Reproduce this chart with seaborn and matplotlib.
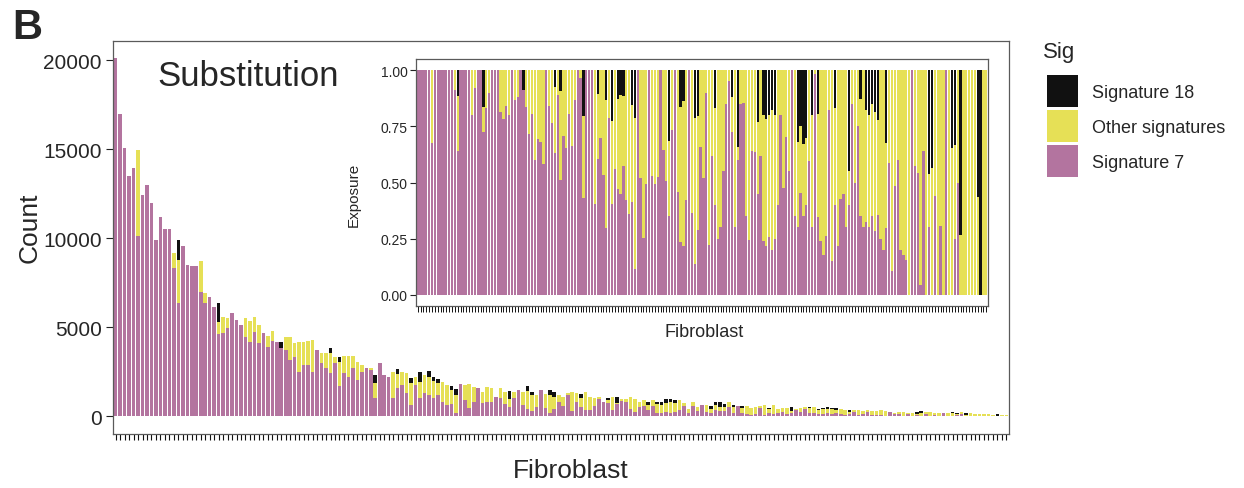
import pandas as pd
import seaborn as sns
import matplotlib.pyplot as plt
from matplotlib.patches import Patch

# counts per fibroblast (sorted by total substitutions)
total = [20100, 16950, 15050, 13500, 13950, 14950, 12450, 13000, 12000, 9900,
         11200, 10500, 10500, 9150, 9900, 9550, 8500, 8450, 8450, 8700,
         6900, 6700, 6150, 6350, 5580, 5490, 5770, 5400, 5120, 5490,
         5350, 5580, 5120, 4690, 4500, 4780, 4180, 4180, 4420, 4420,
         4090, 4150, 4180, 4230, 4280, 3720, 3530, 3530, 3810, 3340,
         3340, 3400, 3400, 3400, 3060, 2880, 2690, 2690, 2320, 2970,
         2320, 2220, 2500, 2650, 2500, 2410, 2130, 2220, 2500, 2320,
         2540, 2220, 2090, 1940, 1750, 1700, 1510, 1790, 1750, 1790,
         1660, 1570, 1380, 1660, 1570, 1100, 1570, 1380, 1420, 1380,
         1470, 1380, 1700, 1380, 1190, 1470, 1230, 1470, 1380, 1190,
         1100, 1290, 1340, 1290, 1250, 1380, 1100, 1010, 1100, 820,
         1010, 1100, 1100, 970, 950, 1100, 970, 820, 910, 780,
         880, 820, 780, 950, 950, 900, 880, 730, 400, 820,
         500, 600, 630, 550, 820, 780, 700, 820, 650, 580,
         560, 560, 450, 500, 560, 600, 450, 600, 400, 480,
         450, 500, 400, 450, 500, 540, 500, 400, 480, 500,
         460, 450, 420, 350, 370, 350, 330, 300, 350, 300,
         280, 320, 300, 250, 200, 240, 220, 180, 200, 250,
         300, 250, 230, 180, 170, 200, 160, 230, 180, 210,
         150, 170, 120, 110, 100, 100, 80, 130, 80, 60]

sig7 = [20100, 16950, 15050, 13500, 13950, 10100, 12450, 13000, 12000, 9900,
        11200, 10500, 10500, 8350, 6350, 9550, 8500, 8450, 8450, 6950,
        6350, 6700, 6150, 4600, 4650, 4930, 5770, 5400, 5120, 4460,
        4180, 4700, 4090, 4690, 3900, 4200, 4180, 3810, 3700, 3160,
        3300, 2500, 2900, 2880, 2500, 3720, 2970, 2700, 2410, 2970,
        1700, 2410, 2220, 2730, 2030, 2500, 2690, 2600, 1000, 2970,
        2320, 2220, 1010, 1600, 1750, 1290, 630, 1750, 1010, 1300,
        1200, 1000, 1200, 820, 630, 700, 170, 1790, 910, 450,
        820, 1570, 730, 820, 820, 1100, 1010, 700, 500, 1010,
        1470, 630, 400, 300, 500, 1470, 450, 200, 400, 785,
        570, 1160, 295, 800, 500, 345, 330, 555, 935, 780,
        730, 330, 660, 825, 810, 385, 235, 525, 580, 350,
        545, 195, 170, 245, 190, 225, 350, 585, 190, 575,
        275, 600, 220, 165, 370, 275, 280, 490, 195, 570,
        195, 135, 80, 130, 460, 90, 180, 130, 170, 215,
        135, 200, 340, 225, 375, 190, 150, 130, 145, 175,
        130, 160, 105, 70, 110, 205, 35, 145, 210, 60,
        50, 50, 0, 250, 115, 130, 10, 115, 0, 75,
        0, 110, 0, 55, 0, 200, 0, 0, 45, 105,
        0, 0, 0, 0, 0, 0, 0, 0, 0, 0]

sig18 = [0, 0, 0, 0, 0, 0, 0, 0, 0, 0,
         0, 0, 0, 0, 1150, 0, 0, 0, 0, 0,
         0, 0, 0, 1050, 0, 0, 0, 0, 0, 0,
         0, 0, 0, 0, 0, 0, 0, 370, 0, 0,
         0, 0, 0, 0, 0, 0, 0, 0, 280, 0,
         310, 0, 0, 0, 0, 0, 0, 0, 470, 0,
         0, 0, 0, 280, 0, 0, 280, 0, 560, 0,
         320, 240, 240, 0, 0, 260, 320, 0, 0, 0,
         0, 0, 0, 0, 0, 0, 0, 0, 450, 0,
         0, 0, 280, 190, 0, 0, 0, 310, 280, 0,
         0, 0, 0, 0, 210, 0, 0, 0, 0, 0,
         120, 0, 375, 0, 0, 0, 0, 0, 0, 180,
         0, 165, 170, 190, 170, 180, 0, 0, 0, 0,
         0, 0, 0, 175, 205, 255, 210, 0, 130, 0,
         110, 0, 0, 0, 0, 0, 75, 0, 0, 0,
         0, 225, 0, 0, 0, 70, 0, 70, 95, 75,
         85, 100, 0, 0, 120, 0, 0, 0, 0, 0,
         0, 0, 0, 0, 0, 0, 0, 0, 0, 115,
         130, 0, 0, 0, 0, 0, 0, 80, 60, 0,
         110, 0, 0, 0, 0, 0, 45, 130, 0, 0]

sig_labels = ['Signature 18', 'Other signatures', 'Signature 7']
sig_colors = ['#111111', '#E6E056', '#B3749F']

df = pd.DataFrame({'sample': [f'F{i + 1:03d}' for i in range(len(total))],
                   'total': total, 'sig7': sig7, 'sig18': sig18})
df['other'] = df['total'] - df['sig7'] - df['sig18']
# cumulative tops for stacking (sig 7 at the bottom, sig 18 on top)
df['top_other'] = df['sig7'] + df['other']
df['exp_all'] = 1.0
df['exp_other'] = df['top_other'] / df['total']
df['exp7'] = df['sig7'] / df['total']
n = len(df)

sns.set_theme(style='ticks')
plt.rcParams['font.family'] = ['Liberation Sans', 'DejaVu Sans']

W, H = 1244, 489
fig = plt.figure(figsize=(W / 100, H / 100), dpi=100)


def px_axes(x0, y0, x1, y1):
    return fig.add_axes([x0 / W, 1 - y1 / H, (x1 - x0) / W, (y1 - y0) / H])


def style_panel(ax):
    for s in ax.spines.values():
        s.set_visible(True)
        s.set_color('#5a5a5a')
        s.set_linewidth(0.9)
    ax.set_xticks(range(n))
    ax.set_xticklabels([])
    ax.set_xlabel('')
    ax.set_ylabel('')
    ax.set_xlim(-0.6, n - 0.4)


# ---- main panel ----
ax = px_axes(113, 41.5, 1009, 435)
for col, c in zip(['total', 'top_other', 'sig7'], sig_colors):
    sns.barplot(data=df, x='sample', y=col, color=c, saturation=1, width=0.8,
                linewidth=0, errorbar=None, ax=ax)
style_panel(ax)
ax.set_ylim(-1005, 21105)
ax.set_yticks([0, 5000, 10000, 15000, 20000])
ax.tick_params(axis='y', labelsize=15, length=5, width=0.8, color='#222222', pad=3)
ax.tick_params(axis='x', length=4, width=0.8, color='#111111')

# ---- inset ----
ax2 = px_axes(416, 60, 988, 307)
ax2.set_facecolor('white')
for col, c in zip(['exp_all', 'exp_other', 'exp7'], sig_colors):
    sns.barplot(data=df, x='sample', y=col, color=c, saturation=1, width=0.8,
                linewidth=0, errorbar=None, ax=ax2)
style_panel(ax2)
ax2.set_ylim(-0.05, 1.05)
ax2.set_yticks([0, 0.25, 0.5, 0.75, 1.0])
ax2.set_yticklabels(['0.00', '0.25', '0.50', '0.75', '1.00'])
ax2.tick_params(axis='y', labelsize=10, length=4, width=0.8, color='#222222', pad=2)
ax2.tick_params(axis='x', length=4, width=0.7, color='#111111')

# ---- texts ----
fig.text(12 / W, 1 - 8 / H, 'B', fontsize=30, fontweight='bold', va='top', ha='left')
fig.text(157 / W, 1 - 77 / H, 'Substitution', fontsize=25, va='center', ha='left')
fig.text(30 / W, 1 - 228 / H, 'Count', fontsize=19, rotation=90, va='center', ha='center')
fig.text(571 / W, 1 - 471 / H, 'Fibroblast', fontsize=19, va='center', ha='center')
fig.text(354 / W, 1 - 195 / H, 'Exposure', fontsize=11, rotation=90, va='center', ha='center')
fig.text(704 / W, 1 - 333 / H, 'Fibroblast', fontsize=13, va='center', ha='center')

fig.text(1043 / W, 1 - 58 / H, 'Sig', fontsize=16, va='baseline', ha='left')
handles = [Patch(facecolor=c, edgecolor='none') for c in sig_colors]
fig.legend(handles, sig_labels, loc='upper left',
           bbox_to_anchor=(1031 / W, 1 - 60 / H), frameon=False, fontsize=13,
           handlelength=1.7, handleheight=2.35,
           labelspacing=0.17, handletextpad=0.8)

fig.savefig('out.png', dpi=100)
